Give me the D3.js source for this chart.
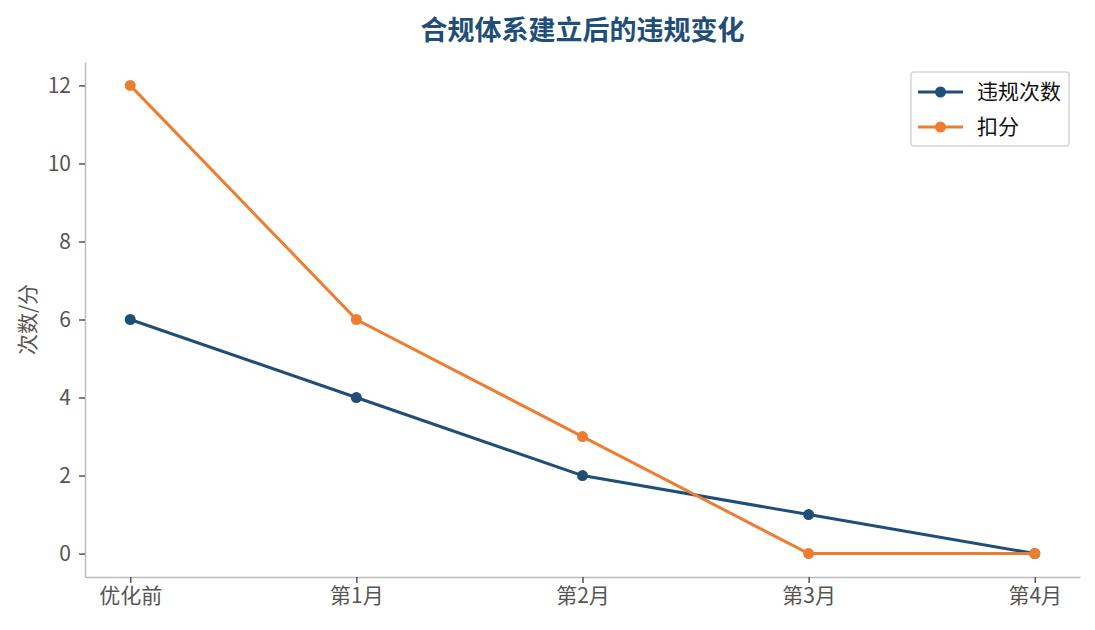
<!DOCTYPE html>
<html lang="zh">
<head>
    <meta charset="UTF-8">
    <title>合规体系建立后的违规变化</title>
    <script src="https://d3js.org/d3.v7.min.js"></script>
    <style>
        body {
            margin: 0;
            background: #fff;
            font-family: "Noto Sans CJK SC", "Noto Sans", sans-serif;
        }
        .domain {
            stroke: #bbb;
            stroke-width: 1.5px;
        }
    </style>
</head>
<body>
    <div id="chart"></div>
    <script>
        // 数据
        const categories = ["优化前", "第1月", "第2月", "第3月", "第4月"];
        const violations = [6, 4, 2, 1, 0];
        const penalties = [12, 6, 3, 0, 0];
        const yTicks = [0, 2, 4, 6, 8, 10, 12];

        const series = [
            { name: "违规次数", values: violations, color: "#1f4e79" },
            { name: "扣分", values: penalties, color: "#ed7d31" }
        ];

        const totalWidth = 1095, totalHeight = 630;
        const margin = { top: 62, right: 15, bottom: 53, left: 85 };
        const width = totalWidth - margin.left - margin.right;
        const height = totalHeight - margin.top - margin.bottom;
        const fontCJK = '"Noto Sans CJK SC", "Noto Sans", sans-serif';

        const svg = d3.select('#chart')
            .append('svg')
            .attr('width', totalWidth)
            .attr('height', totalHeight);

        const g = svg.append('g')
            .attr('transform', `translate(${margin.left}, ${margin.top})`);

        const x = d3.scaleLinear()
            .domain([-0.2, categories.length - 1 + 0.2])
            .range([0, width]);
        const y = d3.scaleLinear()
            .domain([-0.6, 12.6])
            .range([height, 0]);

        // 坐标轴
        const xAxis = g.append('g')
            .attr('transform', `translate(0, ${height})`)
            .call(d3.axisBottom(x)
                .tickValues(d3.range(categories.length))
                .tickFormat(i => categories[i])
                .tickSize(6)
                .tickPadding(5)
                .tickSizeOuter(0));

        const yAxis = g.append('g')
            .call(d3.axisLeft(y)
                .tickValues(yTicks)
                .tickSize(6)
                .tickPadding(8)
                .tickSizeOuter(0));

        [xAxis, yAxis].forEach(ax => {
            ax.attr('font-family', fontCJK).attr('font-size', 21);
            ax.selectAll('.tick line').attr('stroke', '#555').attr('stroke-width', 1.5);
            ax.selectAll('.tick text').attr('fill', '#555');
        });

        // Y轴标题
        svg.append('text')
            .attr('transform', `translate(35, ${margin.top + height / 2}) rotate(-90)`)
            .attr('text-anchor', 'middle')
            .style('font-size', '21px')
            .style('fill', '#555')
            .text('次数/分');

        // 标题
        svg.append('text')
            .attr('x', margin.left + width / 2)
            .attr('y', 40)
            .attr('text-anchor', 'middle')
            .style('font-size', '27px')
            .style('font-weight', 'bold')
            .style('fill', '#1f4e79')
            .text('合规体系建立后的违规变化');

        // 折线
        const line = d3.line()
            .x((d, i) => x(i))
            .y(d => y(d));

        series.forEach(s => {
            g.append('path')
                .datum(s.values)
                .attr('fill', 'none')
                .attr('stroke', s.color)
                .attr('stroke-width', 3)
                .attr('d', line);

            g.selectAll(null)
                .data(s.values)
                .enter().append('circle')
                .attr('cx', (d, i) => x(i))
                .attr('cy', d => y(d))
                .attr('r', 5.5)
                .attr('fill', s.color);
        });

        // 图例
        const legend = svg.append('g')
            .attr('transform', 'translate(911, 72)');
        legend.append('rect')
            .attr('width', 158)
            .attr('height', 74)
            .attr('rx', 3)
            .attr('fill', '#fff')
            .attr('stroke', '#d5d5d5')
            .attr('stroke-width', 1.5);

        series.forEach((s, i) => {
            const row = legend.append('g')
                .attr('transform', `translate(7, ${20 + i * 35})`);
            row.append('line')
                .attr('x1', 0).attr('x2', 45)
                .attr('stroke', s.color)
                .attr('stroke-width', 3);
            row.append('circle')
                .attr('cx', 22.5)
                .attr('r', 5.5)
                .attr('fill', s.color);
            row.append('text')
                .attr('x', 59)
                .attr('y', 7)
                .style('font-size', '21px')
                .style('fill', '#111')
                .text(s.name);
        });
    </script>
</body>
</html>
